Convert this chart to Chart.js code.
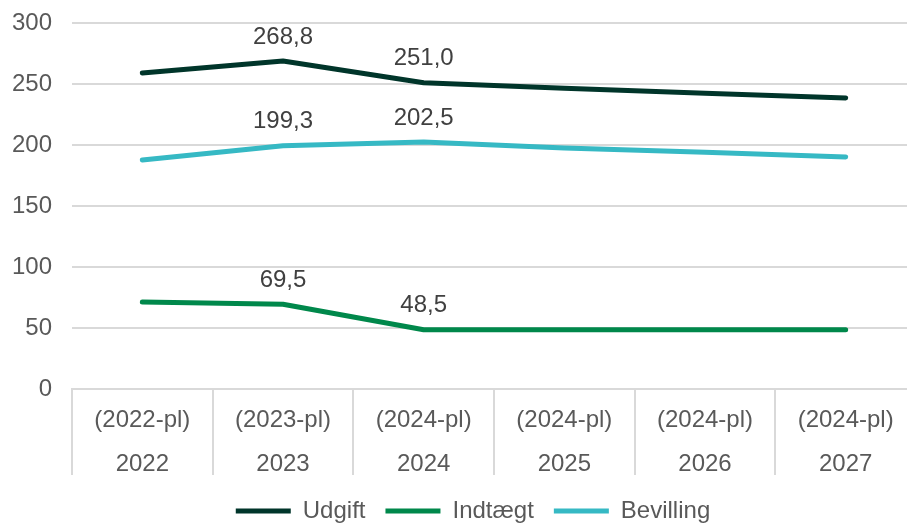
<!DOCTYPE html>
<html>
<head>
<meta charset="utf-8">
<script src="https://cdn.jsdelivr.net/npm/chart.js@4/dist/chart.umd.min.js"></script>
<style>
  html, body { margin: 0; padding: 0; background: #fff; overflow: hidden; }
  #wrap { width: 907px; height: 523px; overflow: hidden; }
</style>
</head>
<body>
<div id="wrap"><canvas id="chart" width="920" height="533"></canvas></div>
<script>
const years = ['2022', '2023', '2024', '2025', '2026', '2027'];
const priceLevels = ['(2022-pl)', '(2023-pl)', '(2024-pl)', '(2024-pl)', '(2024-pl)', '(2024-pl)'];
const udgift = [259.0, 268.8, 251.0, 246.5, 242.5, 238.5];
const indtaegt = [71.3, 69.5, 48.5, 48.5, 48.5, 48.5];
const bevilling = [187.7, 199.3, 202.5, 197.5, 194.0, 190.2];
const labelledPoints = [1, 2];

const textColor = '#595959';
const gridColor = '#d9d9d9';
const font = { family: 'Liberation Sans, Arial, sans-serif', size: 24 };

// vertical separators between the category groups under the axis
const dividers = {
  id: 'dividers',
  afterDraw(chart) {
    const x = chart.scales.x;
    const ctx = chart.ctx;
    const step = x.getPixelForValue(1) - x.getPixelForValue(0);
    ctx.save();
    ctx.strokeStyle = gridColor;
    ctx.lineWidth = 2;
    for (let i = 0; i <= years.length; i++) {
      const px = Math.round(x.getPixelForValue(i) - step / 2);
      ctx.beginPath();
      ctx.moveTo(px, x.top);
      ctx.lineTo(px, x.top + 86);
      ctx.stroke();
    }
    ctx.restore();
  }
};

// value labels above selected points
const valueLabels = {
  id: 'valueLabels',
  afterDatasetsDraw(chart) {
    const ctx = chart.ctx;
    ctx.save();
    ctx.font = font.size + 'px ' + font.family;
    ctx.fillStyle = '#404040';
    ctx.textAlign = 'center';
    ctx.textBaseline = 'middle';
    chart.data.datasets.forEach((ds, di) => {
      const meta = chart.getDatasetMeta(di);
      labelledPoints.forEach(i => {
        const pt = meta.data[i];
        ctx.fillText(ds.data[i].toFixed(1).replace('.', ','), pt.x, pt.y - 24);
      });
    });
    ctx.restore();
  }
};

// nudge the legend a bit to the right, like the original
const legendShift = {
  id: 'legendShift',
  afterLayout(chart) {
    if (chart.legend) {
      chart.legend.left += 15;
      chart.legend.right += 15;
    }
  }
};

function line(label, data, color) {
  return {
    label,
    data,
    borderColor: color,
    backgroundColor: color,
    borderWidth: 5,
    borderCapStyle: 'round',
    borderJoinStyle: 'round',
    pointRadius: 0,
    tension: 0
  };
}

new Chart(document.getElementById('chart'), {
  type: 'line',
  data: {
    labels: years.map((y, i) => [priceLevels[i], y]),
    datasets: [
      line('Udgift', udgift, '#00352a'),
      line('Indtægt', indtaegt, '#00884b'),
      line('Bevilling', bevilling, '#36b9c4')
    ]
  },
  options: {
    responsive: false,
    animation: false,
    devicePixelRatio: 1,
    layout: { padding: { top: 23, right: 4, bottom: 0 } },
    plugins: {
      tooltip: { enabled: false },
      legend: {
        position: 'bottom',
        labels: {
          usePointStyle: true,
          pointStyle: 'line',
          pointStyleWidth: 55,
          color: textColor,
          font,
          padding: 20
        }
      }
    },
    scales: {
      x: {
        offset: true,
        afterFit: s => { s.height = 90; },
        grid: { display: false },
        border: { display: true, color: gridColor, width: 2 },
        ticks: { color: textColor, font: { ...font, lineHeight: 44 / 24 }, padding: 1, maxRotation: 0 }
      },
      y: {
        min: 0,
        max: 300,
        afterFit: s => { s.width = 72; s.paddingTop = 0; s.paddingBottom = 0; },
        grid: { color: gridColor, lineWidth: 2, drawTicks: false },
        border: { display: false },
        ticks: { stepSize: 50, color: textColor, font, padding: 20 }
      }
    }
  },
  plugins: [dividers, valueLabels, legendShift]
});
</script>
</body>
</html>
